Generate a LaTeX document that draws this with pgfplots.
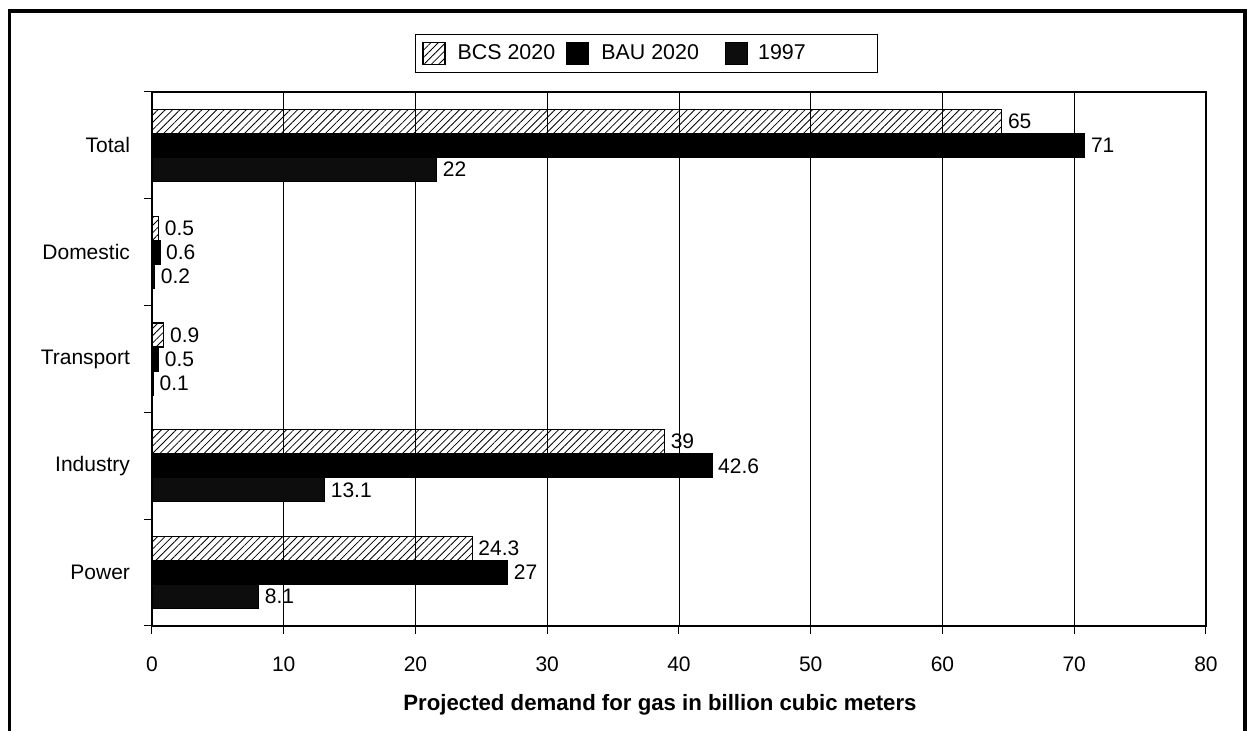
\documentclass[border=0pt]{standalone}
\usepackage{fontspec}
\setmainfont{Liberation Sans}
\usepackage{pgfplots}
\pgfplotsset{compat=1.18}
\usetikzlibrary{patterns.meta}

\begin{document}
\begin{tikzpicture}
\begin{axis}[
    scale only axis,
    width=527pt,
    height=267pt,
    xbar,
    bar width=0.225,
    xmin=0, xmax=80,
    ymin=-0.5, ymax=4.5,
    xtick={0,10,...,80},
    ytick={-0.5,0.5,...,4.5},
    yticklabels={},
    extra y ticks={0,1,2,3,4},
    extra y tick labels={Power,Industry,Transport,Domestic,Total},
    extra y tick style={major tick length=0pt},
    xtick pos=bottom,
    ytick pos=left,
    major tick length=4pt,
    tick align=outside,
    tick style={black, line width=0.5pt},
    xmajorgrids,
    major grid style={black, line width=0.4pt},
    axis line style={black, line width=0.8pt},
    /pgf/number format/assume math mode=true,
    tick label style={font=\fontsize{10.5}{12}\selectfont},
    xticklabel style={yshift=-8pt},
    yticklabel style={xshift=-7.5pt},
    xlabel={\bfseries Projected demand for gas in billion cubic meters},
    xlabel style={font=\fontsize{11.1}{13}\selectfont, yshift=-4.5pt, xshift=-9.5pt},
    nodes near coords,
    point meta=explicit symbolic,
    every node near coord/.append style={font=\fontsize{10.5}{12}\selectfont, anchor=west, xshift=-0.5pt},
    legend columns=3,
    legend style={draw=black, line width=0.5pt, at={(0.469,1.108)}, anchor=north,
        font=\fontsize{10.7}{12}\selectfont, inner ysep=3pt, inner xsep=3.5pt,
        /tikz/column 1/.style={column sep=4pt},
        /tikz/column 2/.style={column sep=3.5pt},
        /tikz/column 3/.style={column sep=4pt},
        /tikz/column 4/.style={column sep=11pt},
        /tikz/column 5/.style={column sep=3pt}},
    legend image code/.code={\draw[#1] (0pt,-5.5pt) rectangle (11pt,5.5pt);},
]
\addplot[draw=black, line width=0.6pt, bar shift=0.225,
    pattern={Lines[angle=45,distance=2.6pt,line width=0.4pt]}]
    coordinates {(24.3,0)[24.3] (38.9,1)[39] (0.9,2)[0.9] (0.5,3)[0.5] (64.5,4)[65]};
\addplot[draw=black, fill=black, line width=0.6pt, bar shift=0]
    coordinates {(27.0,0)[27] (42.5,1)[42.6] (0.5,2)[0.5] (0.6,3)[0.6] (70.8,4)[71]};
\addplot[draw=black, fill=black!95, line width=0.6pt, bar shift=-0.225]
    coordinates {(8.1,0)[8.1] (13.1,1)[13.1] (0.1,2)[0.1] (0.2,3)[0.2] (21.6,4)[22]};
\legend{BCS 2020, BAU 2020, \makebox[54pt][l]{1997}}
\end{axis}
\draw[line width=1.6pt] (-71.25pt,-53pt) -- (-71.25pt,307.5pt) -- (546.5pt,307.5pt) -- (546.5pt,-53pt);
\pgfresetboundingbox
\path[use as bounding box] (-76pt,-52.5pt) rectangle (548.5pt,313pt);
\end{tikzpicture}
\end{document}
